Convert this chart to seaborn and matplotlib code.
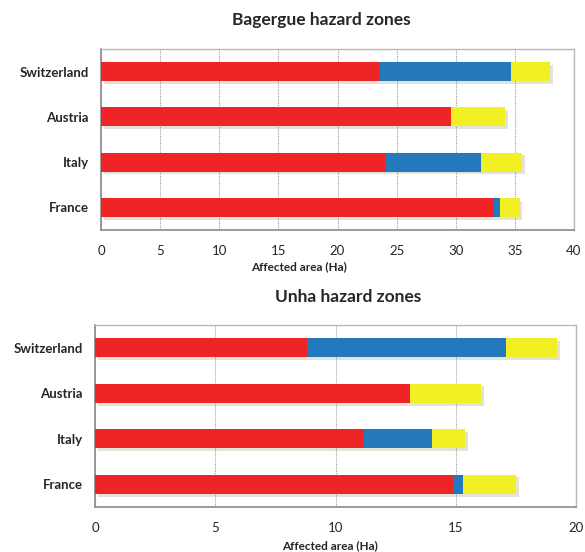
import numpy as np
import pandas as pd
import seaborn as sns
import matplotlib.pyplot as plt
import matplotlib.patheffects as pe

countries = ["Switzerland", "Austria", "Italy", "France"]

# Bagergue hazard zones (Ha)
bag_red = [23.6, 29.6, 24.1, 33.2]
bag_blue = [11.1, 0.0, 8.0, 0.5]
bag_yellow = [3.3, 4.6, 3.5, 1.7]

# Unha hazard zones (Ha)
unha_red = [8.8, 13.1, 11.2, 14.9]
unha_blue = [8.3, 0.0, 2.8, 0.4]
unha_yellow = [2.1, 2.95, 1.4, 2.2]

RED = "#EE2427"
BLUE = "#2479BD"
YELLOW = "#F2EF22"

sns.set_style("white")
plt.rcParams["font.family"] = ["Lato", "DejaVu Sans"]

W, H = 585, 552
fig = plt.figure(figsize=(5.85, 5.52), dpi=100)
# axes boxes measured in pixels
ax1 = fig.add_axes([101 / W, 1 - 230 / H, 473 / W, 181 / H])
ax2 = fig.add_axes([95 / W, 1 - 507 / H, 481 / W, 182 / H])


def stacked(ax, red, blue, yellow, xmax, step, xlab_pos):
    df = pd.DataFrame({"country": countries, "red": red, "blue": blue, "yellow": yellow})
    df["rb"] = df["red"] + df["blue"]
    df["total"] = df["rb"] + df["yellow"]
    shadow = [pe.SimplePatchShadow(offset=(2, -2), alpha=0.15), pe.Normal()]
    for col, c in [("total", YELLOW), ("rb", BLUE), ("red", RED)]:
        sns.barplot(data=df, x=col, y="country", orient="h", color=c,
                    width=0.42, ax=ax, saturation=1, linewidth=0, zorder=3)
    for i, p in enumerate(ax.patches):
        if i < len(countries):
            p.set_path_effects(shadow)
    ax.set_xlim(0, xmax)
    ax.set_xticks(np.arange(0, xmax + 0.1, step))
    ax.set_ylim(3.5, -0.5)
    ax.set_yticks([-0.5, 0.5, 1.5, 2.5, 3.5])
    ax.set_yticklabels([])
    ax.set_yticks(range(len(countries)), minor=True)
    ax.set_yticklabels(countries, minor=True, fontweight="bold", fontsize=9.5)
    ax.tick_params(axis="y", which="minor", length=0, pad=9)
    ax.tick_params(axis="y", which="major", length=4, color="#808080", width=1)
    ax.tick_params(axis="x", length=4, color="#808080", labelsize=9.5, pad=7)
    ax.grid(axis="x", color="#a0a0a0", linestyle=(0, (1, 1)), linewidth=0.8, zorder=0)
    for s in ["top", "right"]:
        ax.spines[s].set_color("#b8b8b8")
        ax.spines[s].set_linewidth(1)
    for s in ["left", "bottom"]:
        ax.spines[s].set_color("#8a8a8a")
        ax.spines[s].set_linewidth(1.2)
    ax.set_ylabel("")
    ax.set_xlabel("Affected area (Ha)", fontweight="bold", fontsize=8.5)
    ax.xaxis.set_label_coords(*xlab_pos)


stacked(ax1, bag_red, bag_blue, bag_yellow, 40, 5, (0.419, -0.17))
stacked(ax2, unha_red, unha_blue, unha_yellow, 20, 5, (0.489, -0.18))

fig.text(321 / W, 1 - 20 / H, "Bagergue hazard zones", ha="center", va="center",
         fontweight="bold", fontsize=12.5)
fig.text(348 / W, 1 - 297 / H, "Unha hazard zones", ha="center", va="center",
         fontweight="bold", fontsize=12.5)

fig.savefig("out.png", dpi=100)
